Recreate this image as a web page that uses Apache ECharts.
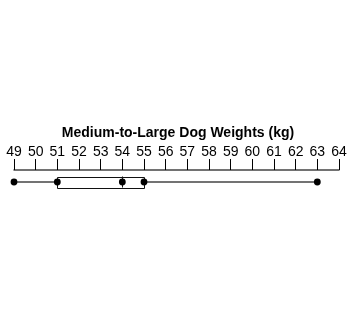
<!DOCTYPE html>
<html><head><meta charset="utf-8">
<script src="https://cdn.jsdelivr.net/npm/echarts@6/dist/echarts.min.js"></script>
<style>html,body{margin:0;padding:0;background:#fff}#c{width:350px;height:335px}</style>
</head><body><div id="c"></div>
<script>
const categories = ['Dogs'];
const fiveNumber = [49, 51, 54, 55, 63]; // min, Q1, median, Q3, max
const tickMin = 49, tickMax = 64, tickStep = 1;
const titleText = 'Medium-to-Large Dog Weights (kg)';

const chart = echarts.init(document.getElementById('c'), null, {renderer: 'canvas'});
chart.setOption({
  animation: false,
  backgroundColor: '#fff',
  title: {
    text: titleText, left: 173, top: 121, textAlign: 'center',
    textStyle: {fontFamily: 'Liberation Sans', fontWeight: 'bold', fontSize: 14, color: '#000'}
  },
  grid: {left: 14, right: 11, top: 170, height: 24},
  xAxis: {
    type: 'value', position: 'top', min: tickMin, max: tickMax, interval: tickStep,
    axisLine: {show: true, lineStyle: {color: '#444', width: 1.5}},
    axisTick: {show: true, length: 11, lineStyle: {color: '#000', width: 1}},
    axisLabel: {margin: 11, fontFamily: 'Liberation Sans', fontSize: 14, color: '#000'},
    splitLine: {show: false}
  },
  yAxis: {type: 'category', data: categories, show: false},
  series: [{
    type: 'custom',
    data: [[0].concat(fiveNumber)],
    encode: {y: 0, x: [1, 2, 3, 4, 5]},
    renderItem: function (params, api) {
      const c = api.value(0);
      const p = [1,2,3,4,5].map(i => api.coord([api.value(i), c]));
      const y = p[0][1];
      const h = 11;
      const stroke = {stroke: '#444', lineWidth: 1.5, fill: null};
      const children = [
        {type: 'line', shape: {x1: p[0][0], y1: y, x2: p[1][0], y2: y}, style: stroke},
        {type: 'line', shape: {x1: p[3][0], y1: y, x2: p[4][0], y2: y}, style: stroke},
        {type: 'rect', shape: {x: Math.round(p[1][0]) + 0.5, y: Math.round(y - h/2) + 0.5, width: Math.round(p[3][0] - p[1][0]), height: h}, style: {stroke: '#111', lineWidth: 1, fill: '#fff'}},
        {type: 'line', shape: {x1: Math.round(p[2][0]) + 0.5, y1: y - h/2, x2: Math.round(p[2][0]) + 0.5, y2: y + h/2}, style: {stroke: '#111', lineWidth: 1}}
      ];
      p.forEach(pt => children.push({type: 'circle', shape: {cx: pt[0], cy: y, r: 3.4}, style: {fill: '#000'}}));
      return {type: 'group', children: children};
    }
  }]
});
</script></body></html>
